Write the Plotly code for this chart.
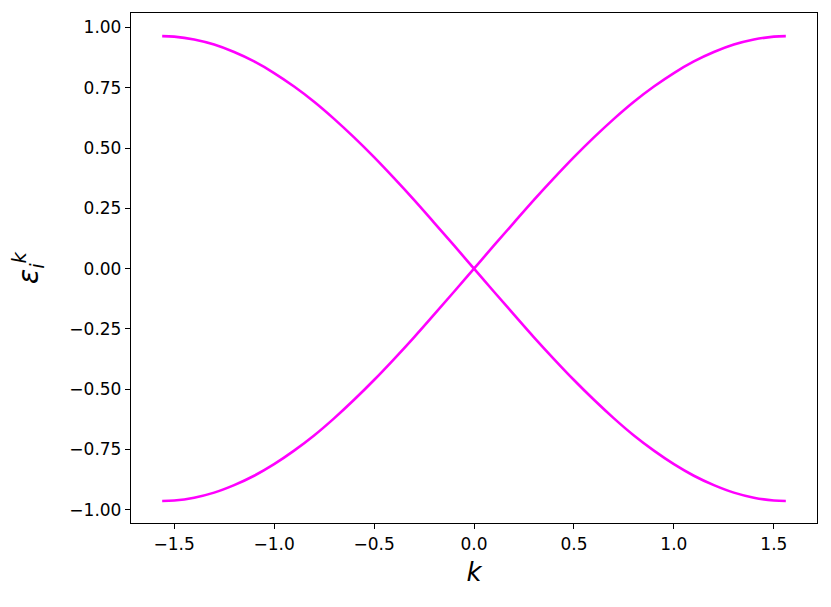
import plotly.graph_objects as go

# k values (x) and band energies
k_vals = [-1.56, -1.5, -1.4, -1.3, -1.2, -1.1, -1.0, -0.9, -0.8, -0.7, -0.6, -0.5,
          -0.4, -0.3, -0.2, -0.1, 0.0, 0.1, 0.2, 0.3, 0.4, 0.5, 0.6, 0.7, 0.8,
          0.9, 1.0, 1.1, 1.2, 1.3, 1.4, 1.5, 1.56]
band_up = [-0.964, -0.962, -0.950, -0.929, -0.898, -0.859, -0.811, -0.755, -0.692,
           -0.621, -0.544, -0.462, -0.375, -0.285, -0.191, -0.096, 0.0, 0.096, 0.191,
           0.285, 0.375, 0.462, 0.544, 0.621, 0.692, 0.755, 0.811, 0.859, 0.898,
           0.929, 0.950, 0.962, 0.964]
band_down = [0.964, 0.962, 0.950, 0.929, 0.898, 0.859, 0.811, 0.755, 0.692,
             0.621, 0.544, 0.462, 0.375, 0.285, 0.191, 0.096, 0.0, -0.096, -0.191,
             -0.285, -0.375, -0.462, -0.544, -0.621, -0.692, -0.755, -0.811, -0.859,
             -0.898, -0.929, -0.950, -0.962, -0.964]

x_ticks = [-1.5, -1.0, -0.5, 0.0, 0.5, 1.0, 1.5]
y_ticks = [-1.0, -0.75, -0.5, -0.25, 0.0, 0.25, 0.5, 0.75, 1.0]

fig = go.Figure()
for ys in (band_up, band_down):
    fig.add_trace(go.Scatter(x=k_vals, y=ys, mode="lines", line_shape="spline",
                             line=dict(color="#ff00ff", width=2.6), showlegend=False,
                             hoverinfo="skip"))

axis_common = dict(showline=True, linecolor="black", linewidth=1.3, mirror=True,
                   ticks="outside", ticklen=5, tickwidth=1.2, tickcolor="black",
                   showgrid=False, zeroline=False,
                   tickfont=dict(family="DejaVu Sans", size=17, color="black"))

fig.update_layout(
    width=831, height=607,
    margin=dict(l=123, r=22, t=5, b=92, autoexpand=False),
    paper_bgcolor="white", plot_bgcolor="white",
    xaxis=dict(range=[-1.716, 1.716], tickvals=x_ticks, tickformat=".1f",
               title=dict(text="<i>k</i>", standoff=10,
                          font=dict(family="DejaVu Sans", size=26, color="black")),
               **axis_common),
    yaxis=dict(range=[-1.055, 1.06], tickvals=y_ticks, tickformat=".2f",
               title=dict(text="<i>ε</i><sub><i>i</i></sub><sup><i>k</i></sup>", standoff=22,
                          font=dict(family="DejaVu Sans", size=28, color="black")),
               **axis_common),
)

fig.write_html("out.html")
